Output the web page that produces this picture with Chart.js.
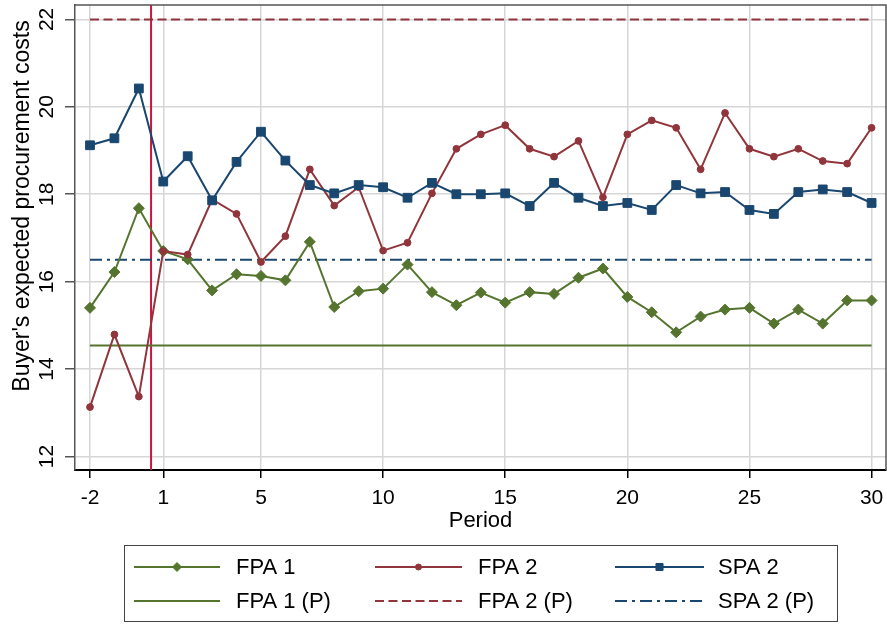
<!DOCTYPE html>
<html><head><meta charset="utf-8">
<script src="https://cdn.jsdelivr.net/npm/chart.js@4.4.0/dist/chart.umd.min.js"></script>
<style>html,body{margin:0;padding:0;background:#fff;overflow:hidden;} canvas{display:block;}</style>
</head><body>
<canvas id="c" width="887" height="625"></canvas>
<script>
// ---- data ----
const periods = [-2,-1,0,1,2,3,4,5,6,7,8,9,10,11,12,13,14,15,16,17,18,19,20,21,22,23,24,25,26,27,28,29,30];
const fpa1 = [15.40,16.22,17.68,16.70,16.51,15.80,16.17,16.13,16.03,16.91,15.42,15.78,15.84,16.39,15.76,15.46,15.75,15.52,15.76,15.72,16.09,16.30,15.65,15.30,14.84,15.20,15.36,15.40,15.04,15.36,15.04,15.57,15.57];
const fpa2 = [13.13,14.79,13.37,16.70,16.62,17.88,17.55,16.45,17.04,18.57,17.74,18.16,16.71,16.89,18.02,19.04,19.37,19.58,19.04,18.86,19.22,17.93,19.37,19.69,19.52,18.57,19.86,19.04,18.86,19.04,18.76,18.70,19.52];
const spa2 = [19.12,19.28,20.42,18.29,18.87,17.86,18.74,19.43,18.77,18.21,18.02,18.21,18.16,17.92,18.26,18.00,18.00,18.02,17.73,18.26,17.92,17.73,17.80,17.64,18.21,18.02,18.05,17.64,17.55,18.05,18.11,18.05,17.80];
const fpa1P = 14.54;
const fpa2P = 22;
const spa2P = 16.5;
const refRange = [-2, 30];
const treatmentX = 0.5;
const xTicks = [-2,1,5,10,15,20,25,30];
const yTicks = [12,14,16,18,20,22];
const seriesNames = ['FPA 1','FPA 2','SPA 2','FPA 1 (P)','FPA 2 (P)','SPA 2 (P)'];
const xTitle = 'Period';
const yTitle = "Buyer's expected procurement costs";

// ---- styles ----
const GREEN = 'rgb(85,117,47)';
const MAROON = 'rgb(144,53,59)';
const NAVY = 'rgb(26,71,111)';
const VLINE = 'rgb(204,20,62)';
const FONT = '"Liberation Sans", Arial, sans-serif';

const pts = (ys) => periods.map((p, i) => ({x: p, y: ys[i]}));
const ref = (v) => refRange.map(x => ({x: x, y: v}));

const datasets = [
  {label: seriesNames[0], data: pts(fpa1), borderColor: GREEN, backgroundColor: GREEN, borderWidth: 2,
   pointStyle: 'rectRot', pointRadius: 5.5, pointBorderWidth: 1, order: 3, legendR: 4.5},
  {label: seriesNames[1], data: pts(fpa2), borderColor: MAROON, backgroundColor: MAROON, borderWidth: 2,
   pointStyle: 'circle', pointRadius: 3.4, pointBorderWidth: 1, order: 2, legendR: 3},
  {label: seriesNames[2], data: pts(spa2), borderColor: NAVY, backgroundColor: NAVY, borderWidth: 2,
   pointStyle: 'rect', pointRadius: 6.2, pointBorderWidth: 1, order: 1, legendR: 5},
  {label: seriesNames[3], data: ref(fpa1P), borderColor: GREEN, borderWidth: 2, pointRadius: 0, order: 10},
  {label: seriesNames[4], data: ref(fpa2P), borderColor: MAROON, borderWidth: 2, borderDash: [9,4.5], pointRadius: 0, order: 10},
  {label: seriesNames[5], data: ref(spa2P), borderColor: NAVY, borderWidth: 2, borderDash: [12,5,3,5], pointRadius: 0, order: 10}
];

const decor = {
  id: 'decor',
  beforeDatasetsDraw(chart) {
    const {ctx, chartArea: a, scales: {x}} = chart;
    const px = x.getPixelForValue(treatmentX);
    ctx.save();
    ctx.strokeStyle = VLINE; ctx.lineWidth = 2;
    ctx.beginPath(); ctx.moveTo(px, a.top); ctx.lineTo(px, a.bottom); ctx.stroke();
    ctx.restore();
  },
  afterDraw(chart) {
    const {ctx, chartArea: a, scales: {x, y}} = chart;
    ctx.save();
    // frame top / right
    ctx.strokeStyle = '#555'; ctx.lineWidth = 1.5;
    ctx.beginPath(); ctx.moveTo(a.left, a.top); ctx.lineTo(a.right, a.top); ctx.lineTo(a.right, a.bottom); ctx.stroke();
    ctx.fillStyle = '#000';
    ctx.font = '21px ' + FONT;
    ctx.textAlign = 'center'; ctx.textBaseline = 'middle';
    // x tick labels
    xTicks.forEach(v => {
      ctx.fillText(String(v), x.getPixelForValue(v), a.bottom + 28);
    });
    // rotated y tick labels
    yTicks.forEach(v => {
      ctx.save();
      ctx.translate(46, y.getPixelForValue(v));
      ctx.rotate(-Math.PI / 2);
      ctx.fillText(String(v), 0, 1);
      ctx.restore();
    });
    // y title
    ctx.save();
    ctx.font = '23px ' + FONT;
    ctx.translate(23, 206);
    ctx.rotate(-Math.PI / 2);
    ctx.fillText(yTitle, 0, 0);
    ctx.restore();
    // legend
    const box = {l: 124.5, t: 545.5, r: 837.5, b: 621.5};
    ctx.strokeStyle = '#444'; ctx.lineWidth = 1;
    ctx.strokeRect(box.l, box.t, box.r - box.l, box.b - box.t);
    const cols = [{x0: 134, x1: 220, tx: 236}, {x0: 375, x1: 462, tx: 478}, {x0: 615, x1: 704, tx: 718}];
    const rows = [567, 601];
    ctx.font = '22px ' + FONT;
    ctx.textAlign = 'left'; ctx.textBaseline = 'middle';
    chart.data.datasets.forEach((ds, i) => {
      const c = cols[i % 3], ry = rows[Math.floor(i / 3)];
      ctx.save();
      ctx.strokeStyle = ds.borderColor; ctx.lineWidth = ds.borderWidth;
      ctx.setLineDash(ds.borderDash || []);
      ctx.beginPath(); ctx.moveTo(c.x0, ry); ctx.lineTo(c.x1, ry); ctx.stroke();
      ctx.setLineDash([]);
      if (ds.pointRadius > 0) {
        ctx.fillStyle = ds.backgroundColor; ctx.strokeStyle = ds.borderColor; ctx.lineWidth = 1;
        Chart.helpers.drawPoint(ctx, {pointStyle: ds.pointStyle, radius: ds.legendR, rotation: 0, borderWidth: 1}, (c.x0 + c.x1) / 2, ry);
      }
      ctx.restore();
      ctx.fillStyle = '#000';
      ctx.fillText(ds.label, c.tx, ry + 1);
    });
    ctx.restore();
  }
};

new Chart(document.getElementById('c'), {
  type: 'line',
  data: {datasets},
  options: {
    responsive: false, animation: false, devicePixelRatio: 1,
    layout: {autoPadding: false, padding: {left: 0, right: 1, top: 5, bottom: 0}},
    plugins: {legend: {display: false}, tooltip: {enabled: false}},
    elements: {line: {tension: 0}},
    scales: {
      x: {
        type: 'linear', min: -2.614, max: 30.59,
        afterBuildTicks: s => { s.ticks = xTicks.map(v => ({value: v})); },
        afterFit: s => { s.height = 155; },
        grid: {color: '#d6d6d6', lineWidth: 1.5, drawTicks: true, tickLength: 8, tickColor: '#000', tickWidth: 1.5},
        border: {color: '#000', width: 2},
        ticks: {display: false},
        title: {display: true, text: xTitle, color: '#000', font: {family: FONT, size: 22}, padding: {top: 0, bottom: 91}}
      },
      y: {
        type: 'linear', min: 11.69, max: 22.33,
        afterBuildTicks: s => { s.ticks = yTicks.map(v => ({value: v})); },
        afterFit: s => { s.width = 75; },
        grid: {color: '#d6d6d6', lineWidth: 1.5, drawTicks: true, tickLength: 10, tickColor: '#555', tickWidth: 1.5},
        border: {color: '#555', width: 1.5},
        ticks: {display: false}
      }
    }
  },
  plugins: [decor]
});
</script>
</body></html>
